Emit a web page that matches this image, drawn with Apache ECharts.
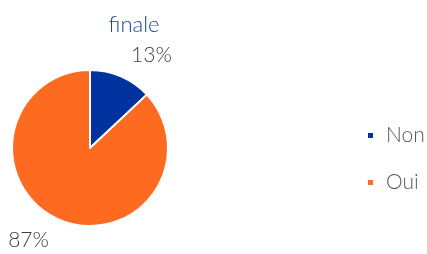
<!DOCTYPE html>
<html>
<head>
<meta charset="utf-8">
<script src="https://cdn.jsdelivr.net/npm/echarts@6/dist/echarts.min.js"></script>
<style>
  html, body { margin: 0; padding: 0; background: #fff; }
  #chart { width: 427px; height: 254px; }
</style>
</head>
<body>
<div id="chart"></div>
<script>
// données du graphique
const categories = ['Non', 'Oui']
const values = [13, 87]
const colors = ['#0033a0', '#ff6a21']

const chart = echarts.init(document.getElementById('chart'))

const option = {
  animation: false,
  title: {
    text: 'finale',
    left: 129,
    top: 9,
    textAlign: 'center',
    textStyle: {color: '#1d46a6', fontSize: 22, fontWeight: 300, fontFamily: 'Lato'}
  },
  legend: {
    orient: 'vertical',
    left: 361,
    top: 120,
    itemWidth: 7,
    itemHeight: 7,
    itemGap: 26,
    icon: 'rect',
    textStyle: {color: '#595959', fontSize: 21, fontWeight: 300, fontFamily: 'Lato', padding: [0, 0, 0, 7]},
    data: categories
  },
  series: [{
    type: 'pie',
    center: [90, 148],
    radius: 78,
    startAngle: 90,
    clockwise: true,
    avoidLabelOverlap: false,
    itemStyle: {borderColor: '#fff', borderWidth: 2},
    label: {
      show: true,
      position: 'outside',
      formatter: '{d}%',
      color: '#404040',
      fontSize: 21,
      fontWeight: 300,
      fontFamily: 'Lato',
      distanceToLabelLine: 0
    },
    labelLine: {show: false, length: 23, length2: 1},
    data: categories.map((name, i) => ({
      name: name,
      value: values[i],
      itemStyle: {color: colors[i]}
    }))
  }]
}

chart.setOption(option)
</script>
</body>
</html>
